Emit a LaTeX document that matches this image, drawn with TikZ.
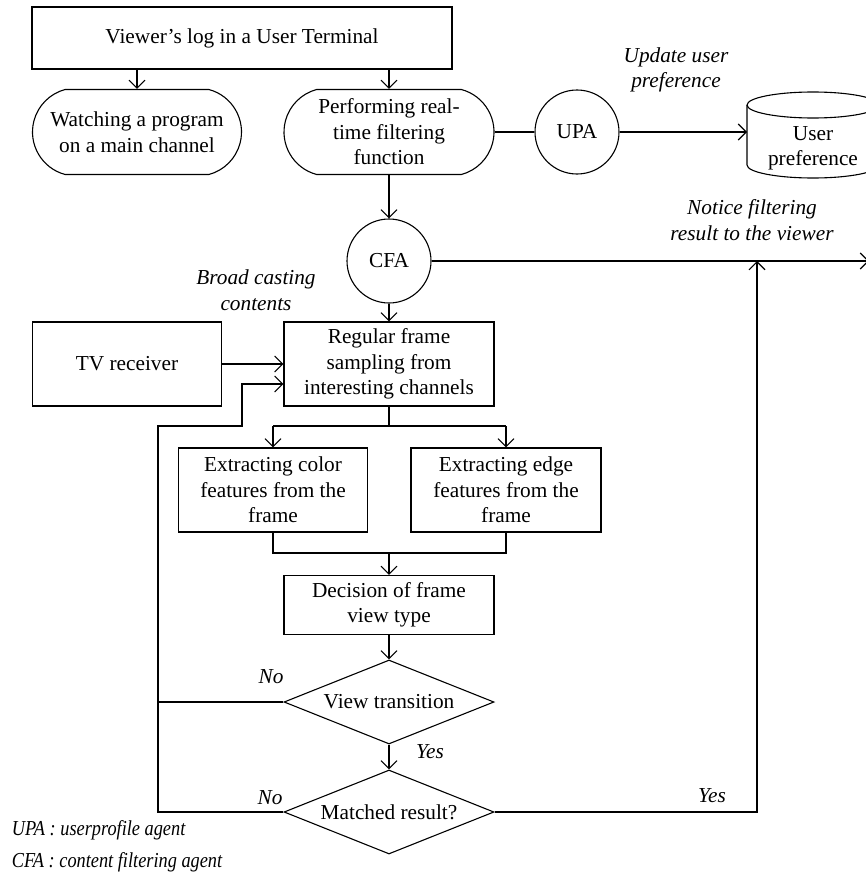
\documentclass[tikz,border=0pt]{standalone}
\usepackage{fontspec}
\setmainfont{Liberation Serif}
\usetikzlibrary{arrows.meta,shapes.geometric,shapes.misc}

\begin{document}
\begin{tikzpicture}[x=1pt,y=-1pt,
  font=\fontsize{21.3}{25.5}\selectfont,
  line width=1.1pt,
  arr/.style={-{Straight Barb[length=8pt,width=16pt,line width=1.1pt]}},
  box/.style={draw,rectangle,align=center,inner sep=2pt},
  stadium/.style={draw,rounded rectangle,rounded rectangle arc length=150,
    align=center,inner sep=0pt,minimum height=85pt},
  agent/.style={draw,circle,minimum size=84pt,inner sep=0pt},
  decision/.style={draw,diamond,aspect=2.5,inner sep=0pt,
    minimum width=210pt,minimum height=84pt,align=center},
  note/.style={font=\fontsize{21.3}{25.5}\selectfont\itshape,align=center},
  legend/.style={font=\fontsize{21.3}{25.5}\selectfont\itshape,anchor=west}]

\useasboundingbox (0,0) rectangle (866,875);
\clip (0,0) rectangle (866,875);

% main nodes
\node[box,minimum width=420pt,minimum height=62pt] (top) at (242,38)
  {Viewer's log in a User Terminal};
\node[stadium,minimum width=209pt] (watch) at (137,132)
  {Watching a program\\on a main channel};
\node[stadium,minimum width=210pt] (perf) at (389,132)
  {Performing real-\\time filtering\\function};
\node[agent] (upa) at (577,132) {UPA};
\node[minimum width=132pt,minimum height=86pt,inner sep=0pt,align=center,
  text depth=0pt] (pref) at (813,146) {User\\preference};
\node[agent] (cfa) at (389,261) {CFA};
\node[box,minimum width=210pt,minimum height=84pt] (reg) at (389,364)
  {Regular frame\\sampling from\\interesting channels};
\node[box,minimum width=189pt,minimum height=84pt] (tv) at (127,364)
  {TV receiver};
\node[box,minimum width=189pt,minimum height=84pt] (color) at (273,490)
  {Extracting color\\features from the\\frame};
\node[box,minimum width=190pt,minimum height=84pt] (edge) at (506,490)
  {Extracting edge\\features from the\\frame};
\node[box,minimum width=210pt,minimum height=59pt] (dec) at (389,605)
  {Decision of frame\\view type};
\node[decision] (vt) at (389,702) {View transition};
\node[decision] (mr) at (389,812) {Matched result?};

% user preference store (cylinder)
\draw (813,105) ellipse [x radius=66pt, y radius=13pt];
\draw (747,105) -- (747,165) arc[start angle=180,end angle=360,x radius=66pt,y radius=13pt]
  -- (879,105);

% helper points
\coordinate (split) at (389,426);
\coordinate (join) at (389,553);
\coordinate (loopX) at (158,426);
\coordinate (loopIn) at (242,384);
\coordinate (outR) at (869,261);
\coordinate (yesX) at (757,812);

% connectors
\draw[arr] (top.south -| watch.north) -- (watch.north);
\draw[arr] (top.south -| perf.north) -- (perf.north);
\draw (perf.east) -- (upa.west);
\draw[arr] (upa.east) -- (747,132);
\draw[arr] (perf.south) -- (cfa.north);
\draw[arr] (cfa.east) -- (outR);
\draw[arr] (cfa.south) -- (reg.north);
\draw[arr] (tv.east) -- (reg.west);
\draw (reg.south) -- (split);
\draw (split -| color.north) -- (split -| edge.north);
\draw[arr] (split -| color.north) -- (color.north);
\draw[arr] (split -| edge.north) -- (edge.north);
\draw (color.south) -- (join -| color.south) -- (join -| edge.south) -- (edge.south);
\draw[arr] (join) -- (dec.north);
\draw[arr] (dec.south) -- (vt.north);
\draw[arr] (vt.south) -- (mr.north);
\draw (vt.west) -- (vt.west -| loopX);
\draw[arr] (mr.west) -- (mr.west -| loopX) -- (loopX) -- (loopX -| loopIn)
  -- (loopIn) -- (loopIn -| reg.west);
\draw[arr] (mr.east) -- (yesX) -- (yesX |- cfa.east);

% labels
\node[note] at (676,70) {Update user\\preference};
\node[note] at (752,220) {Notice filtering\\result to the viewer};
\node[note] at (256,290) {Broad casting\\contents};
\node[note] at (271,677) {No};
\node[note] at (430,752) {Yes};
\node[note] at (270,798) {No};
\node[note] at (712,796) {Yes};
\node[legend] (lupa) at (8,830) {\scalebox{0.86}[1]{UPA : userprofile agent}};
\node[legend] (lcfa) at (8,862) {\scalebox{0.86}[1]{CFA : content filtering agent}};
\end{tikzpicture}
\end{document}
